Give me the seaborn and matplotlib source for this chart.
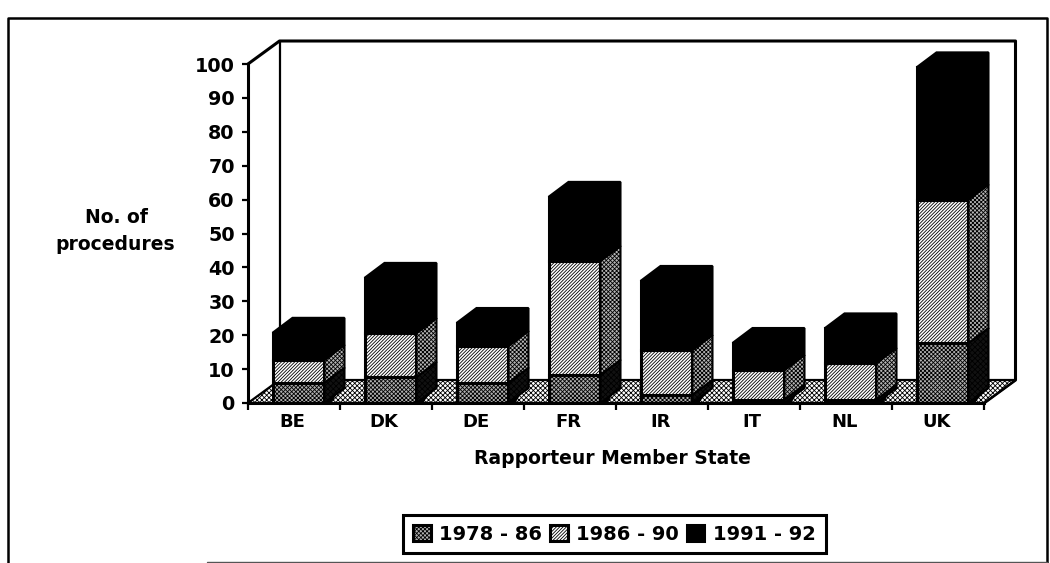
import matplotlib
matplotlib.use("Agg")
import matplotlib.pyplot as plt
from matplotlib.lines import Line2D
from matplotlib.patches import Polygon
import pandas as pd
import seaborn as sns

states = ["BE", "DK", "DE", "FR", "IR", "IT", "NL", "UK"]
p1978_86 = [6, 7.7, 6, 8.3, 2.4, 1, 1, 17.7]
p1986_90 = [6.7, 12.9, 10.8, 33.6, 13.2, 8.7, 10.8, 42.3]
p1991_92 = [8, 16.3, 6.8, 18.9, 20.4, 8, 10.2, 39]
period_labels = ["1978 - 86", "1986 - 90", "1991 - 92"]
yticks = list(range(0, 101, 10))

W, H = 1050, 563
plt.rcParams["hatch.linewidth"] = 0.6
sns.set_style("white")
plt.rcParams["font.family"] = ["DejaVu Sans"]
plt.rcParams["font.weight"] = "bold"
plt.rcParams["text.color"] = "black"

fig = plt.figure(figsize=(W / 100, H / 100), dpi=100, facecolor="white")
L, R, T, B = 248, 984, 64, 403
ax = fig.add_axes([L / W, 1 - B / H, (R - L) / W, (B - T) / H])
ax.patch.set_alpha(0)

df = pd.DataFrame({"state": states, "a": p1978_86, "b": p1986_90, "c": p1991_92})
df["b0"] = df["a"]
df["c0"] = df["a"] + df["b"]

styles = [
    ("a", None, "#b0b0b0", "xxxxxxxx"),
    ("b", "b0", "#ffffff", "//////////"),
    ("c", "c0", "#000000", None),
]
side_style = [("#111111", "xxxxxx"), ("#b5b5b5", "xxxxxxxx"), ("#000000", None)]

for (col, base, fc, hatch), lab in zip(styles, period_labels):
    kw = {} if base is None else {"bottom": df[base].to_numpy()}
    sns.barplot(data=df, x="state", y=col, order=states, ax=ax, width=0.565,
                color=fc, saturation=1, edgecolor="black", linewidth=2.2,
                hatch=hatch, label=lab, legend=True, **kw)

ax.set_xlim(-0.5, 7.5)
ax.set_ylim(0, 100)
xpx, ypx = (R - L) / 8, (B - T) / 100
shift = 4.5 / xpx
bdx, bdy = 20 / xpx, 15 / ypx
wdx, wdy = 31.5 / xpx, 23 / ypx

n = len(states)
bars = list(ax.patches)
for i, bar in enumerate(bars):
    seg = i // n
    bar.set_x(bar.get_x() + shift)
    x0, x1 = bar.get_x(), bar.get_x() + bar.get_width()
    y0, y1 = bar.get_y(), bar.get_y() + bar.get_height()
    sfc, sh = side_style[seg]
    ax.add_patch(Polygon([(x1, y0), (x1 + bdx, y0 + bdy), (x1 + bdx, y1 + bdy), (x1, y1)],
                         closed=True, facecolor=sfc, edgecolor="black", hatch=sh,
                         linewidth=1.5, clip_on=False, zorder=1))
    if seg == 0:
        ax.add_patch(Polygon([(x1, 0), (x1 + 6 / xpx, 0), (x1 + bdx, wdy), (x1 + bdx, bdy)],
                             closed=True, facecolor="black", edgecolor="black",
                             linewidth=1, clip_on=False, zorder=0.9))
    if seg == 2:
        ax.add_patch(Polygon([(x0, y1), (x0 + bdx, y1 + bdy), (x1 + bdx, y1 + bdy), (x1, y1)],
                             closed=True, facecolor="black", edgecolor="black",
                             linewidth=1.5, clip_on=False, zorder=1))

# floor and back wall
ax.add_patch(Polygon([(-0.5, 0), (7.5, 0), (7.5 + wdx, wdy), (-0.5 + wdx, wdy)], closed=True,
                     facecolor="#ffffff", edgecolor="black", hatch="xxxxxxx", linewidth=1.6,
                     clip_on=False, zorder=0.5))
ax.plot([-0.5, -0.5 + wdx, 7.5 + wdx, 7.5 + wdx, 7.5],
        [100, 100 + wdy, 100 + wdy, wdy, 0], color="black", lw=2.2, clip_on=False, zorder=0.4)
ax.plot([-0.5 + wdx, -0.5 + wdx], [100 + wdy, wdy], color="black", lw=1.6, clip_on=False, zorder=0.4)

sns.despine(ax=ax, top=True, right=True)
for s in ("left", "bottom"):
    ax.spines[s].set_visible(True)
    ax.spines[s].set_linewidth(2.2)
    ax.spines[s].set_color("black")

ax.set_yticks(yticks)
ax.set_yticklabels([str(v) for v in yticks])
ax.set_xticks([k - 0.5 for k in range(n + 1)])
ax.set_xticklabels([""] * (n + 1))
ax.set_xticks([k - 0.02 for k in range(n)], minor=True)
ax.set_xticklabels(states, minor=True)
ax.tick_params(axis="y", which="major", left=True, length=4.5, width=1.6, pad=5, labelsize=13.8,
               color="black", labelcolor="black")
ax.tick_params(axis="x", which="major", bottom=True, length=5, width=1.6, color="black")
ax.tick_params(axis="x", which="minor", bottom=False, length=0, pad=7, labelsize=13, labelcolor="black")
ax.set_xlabel("")
ax.set_ylabel("")

fig.text(612 / W, 1 - 459 / H, "Rapporteur Member State", ha="center", va="center",
         fontweight="bold", fontsize=13.5, color="black")
fig.text(116 / W, 1 - 217 / H, "No. of", ha="center", va="center",
         fontweight="bold", fontsize=13.5, color="black")
fig.text(115 / W, 1 - 245 / H, "procedures", ha="center", va="center",
         fontweight="bold", fontsize=13.5, color="black")

handles, labels = ax.get_legend_handles_labels()
leg = ax.legend(handles[:3], labels[:3], ncol=3, loc="center",
                bbox_to_anchor=(614.5 / W, 1 - 534 / H), bbox_transform=fig.transFigure,
                frameon=True, fancybox=False, framealpha=1, edgecolor="black",
                fontsize=14, handlelength=0.9, handleheight=0.9, handletextpad=0.45,
                columnspacing=0.4, borderpad=0.5, borderaxespad=0)
leg.get_frame().set_linewidth(2.2)

# page frame
fx = lambda p: p / W
fy = lambda p: 1 - p / H
fig.add_artist(Line2D([fx(8), fx(8), fx(1047), fx(1047)], [fy(563), fy(18), fy(18), fy(563)],
                      color="black", lw=1.8, transform=fig.transFigure))
fig.add_artist(Line2D([fx(207), fx(1047)], [fy(562), fy(562)], color="#555555", lw=1,
                      transform=fig.transFigure))

fig.savefig("out.png", dpi=100)
